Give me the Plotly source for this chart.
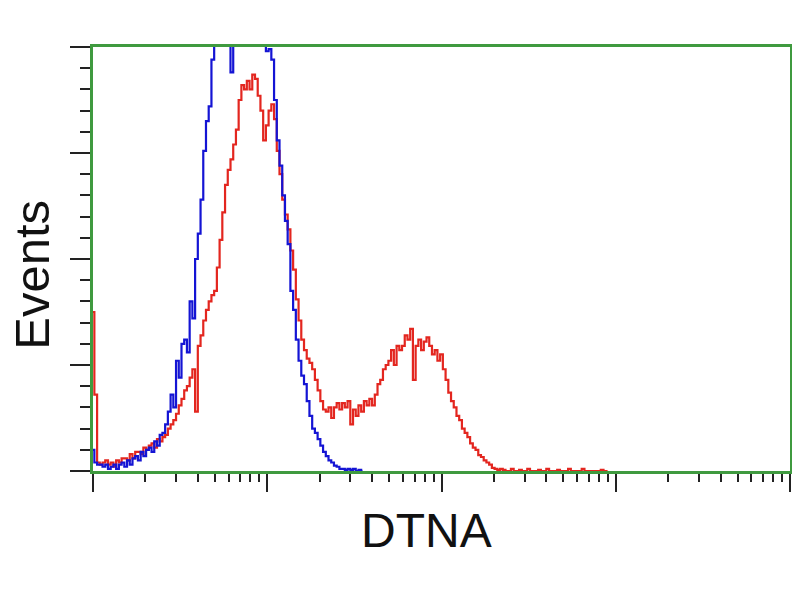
import plotly.graph_objects as go

# Channel numbers (64 channels per decade, log scale 10^0 .. 10^4)
CH_PER_DECADE = 64

control_counts = [
    10, 4, 3, 3, 2, 3, 1, 2, 3, 1, 3,
    4, 2, 5, 3, 6, 7, 5, 9, 7, 10,
    11, 9, 14, 12, 17, 18, 22, 28, 36, 30,
    52, 44, 60, 62, 56, 80, 72, 100, 112, 128,
    151, 165, 172, 194, 205, 212, 208, 220, 215, 206,
    188, 210, 218, 225, 214, 222, 230, 218, 224, 215,
    220, 212, 205, 198, 199, 194, 175, 156, 144, 130,
    118, 107, 85, 76, 62, 52, 45, 41, 33, 26,
    20, 18, 15, 12, 9, 7, 5, 4, 2.5, 2,
    1, 1, 0.5, 1, 0.5, 1, 0, 0.5, 0,
]

dtna_counts = [
    75, 36, 4, 3, 4, 5, 3, 4, 2, 5, 4, 6,
    6, 5, 8, 6, 9, 9, 8, 11, 10, 12,
    13, 11, 15, 14, 16, 17, 20, 22, 24, 27,
    31, 34, 38, 40, 44, 48, 28, 59, 64, 71,
    76, 80, 83, 85, 96, 109, 122, 135, 142, 147,
    154, 161, 175, 182, 180, 184, 180, 187, 185, 177,
    170, 156, 163, 170, 173, 166, 151, 140, 128, 121,
    114, 104, 95, 81, 71, 62, 57, 53, 51, 48,
    43, 38, 33, 29, 28, 30, 25, 30, 32, 29,
    32, 30, 33, 22, 29, 26, 31, 28, 33, 31,
    34, 31, 36, 41, 43, 48, 50, 52, 57, 50,
    59, 57, 59, 64, 62, 67, 43, 59, 62, 57,
    61, 63, 59, 55, 57, 52, 55, 48, 43, 37,
    33, 30, 26, 24, 20, 18, 16, 13, 11, 10,
    7.5, 6.6, 5, 4, 3, 1.5, 1, 0.5, 1, 0.5,
    0, 0, 1, 0, 0, 0.5, 0, 0, 1, 0,
    0, 0, 0.5, 0, 0, 1, 0, 0, 0, 0.5,
    0, 0, 0, 1, 0, 0, 0, 0, 1, 0,
    0, 0, 0, 0, 0, 0.5, 0, 0,
]

major_x = [1, 10, 100, 1000, 10000]
minor_x = [m * d for d in [1, 10, 100, 1000] for m in range(2, 10)]
major_y = [0, 50, 100, 150, 200]
minor_y = [v for v in range(0, 201, 10) if v % 50 != 0]

x_title = "DTNA"
y_title = "Events"

def channel_values(n):
    return [10 ** (c / CH_PER_DECADE) for c in range(n)]

fig = go.Figure()
fig.add_trace(go.Scatter(
    x=channel_values(len(dtna_counts)), y=dtna_counts, mode="lines",
    line=dict(color="#e3261f", width=2.2, shape="hvh"), name="DTNA",
))
fig.add_trace(go.Scatter(
    x=channel_values(len(control_counts)), y=control_counts, mode="lines",
    line=dict(color="#1414d4", width=2.2, shape="hvh"), name="Control",
))

frame = "#3f9a3f"
tickc = "#222222"
fig.update_layout(
    width=800, height=600,
    margin=dict(l=85, r=18, t=39, b=137),
    paper_bgcolor="white", plot_bgcolor="white",
    showlegend=False,
    font=dict(family="Liberation Sans, Arial, sans-serif", color="#111111"),
    xaxis=dict(
        type="log", range=[0, 4], automargin=False,
        tickvals=major_x, showticklabels=False,
        ticks="outside", ticklen=18, tickwidth=2, tickcolor=tickc,
        minor=dict(tickvals=minor_x, ticks="outside", ticklen=8, tickwidth=2, tickcolor=tickc, showgrid=False),
        showline=True, linecolor=frame, linewidth=2.5, mirror=True,
        showgrid=False, zeroline=False,
    ),
    yaxis=dict(
        range=[0, 200], automargin=False,
        tickvals=major_y, showticklabels=False,
        ticks="outside", ticklen=20, tickwidth=2, tickcolor=tickc,
        minor=dict(tickvals=minor_y, ticks="outside", ticklen=10, tickwidth=2, tickcolor=tickc, showgrid=False),
        showline=True, linecolor=frame, linewidth=2.5, mirror=True,
        showgrid=False, zeroline=False,
    ),
    annotations=[
        dict(text=x_title, xref="paper", yref="paper", x=0.479, y=0,
             xanchor="center", yanchor="top", yshift=-31, showarrow=False,
             font=dict(size=48)),
        dict(text=y_title, xref="paper", yref="paper", x=-0.088, y=0.462,
             xanchor="center", yanchor="middle", textangle=-90, showarrow=False,
             borderpad=0, font=dict(size=49)),
    ],
)

fig.write_html("out.html")
